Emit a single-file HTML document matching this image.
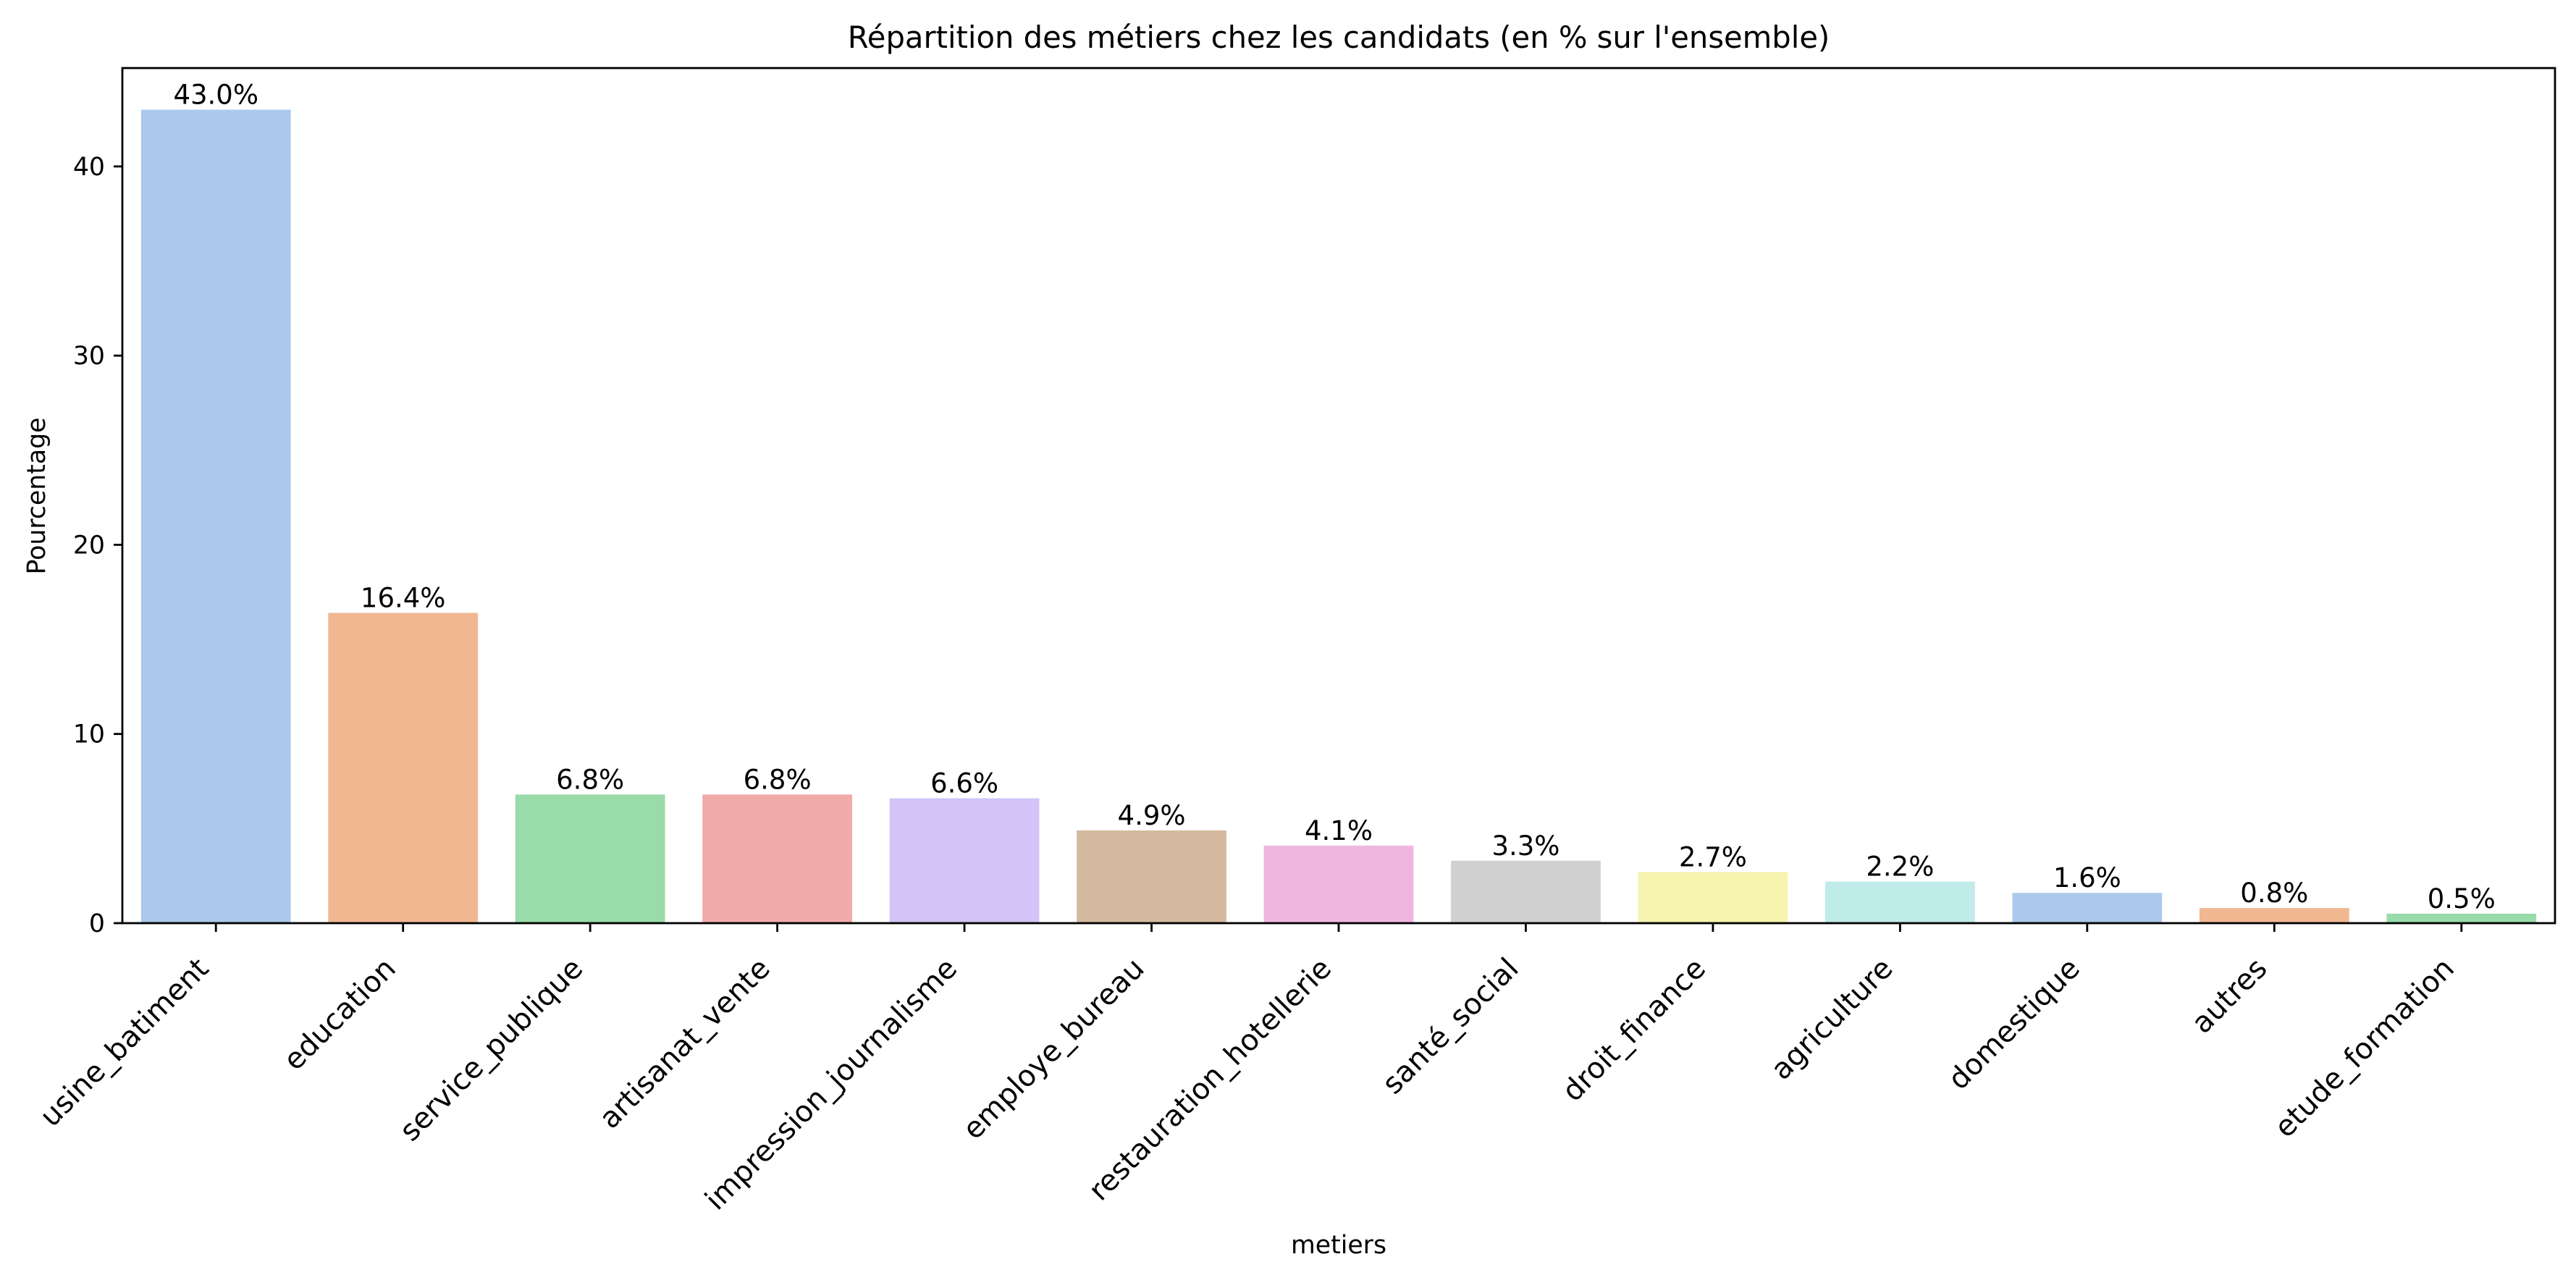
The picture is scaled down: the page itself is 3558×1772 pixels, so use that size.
<!DOCTYPE html>
<html><head><meta charset="utf-8"><style>
html,body{margin:0;padding:0;background:#fff;}
svg text{font-family:"DejaVu Sans","Liberation Sans",sans-serif;fill:#000;}
</style></head><body>
<svg id="chart" width="3558" height="1767" viewBox="0 0 3558 1767" xmlns="http://www.w3.org/2000/svg">
<rect width="3558" height="1767" fill="#fff"/>
<text x="1849" y="66" font-size="41.7" text-anchor="middle">Répartition des métiers chez les candidats (en % sur l'ensemble)</text>
<text x="0" y="0" font-size="34.7" text-anchor="middle" transform="translate(62,685) rotate(-90)">Pourcentage</text>
<text x="1849" y="1731" font-size="34.7" text-anchor="middle">metiers</text>
<g id="bars"></g>
<g id="axes"></g>
</svg>
<script>
const categories = ["usine_batiment","education","service_publique","artisanat_vente","impression_journalisme","employe_bureau","restauration_hotellerie","santé_social","droit_finance","agriculture","domestique","autres","etude_formation"];
const values = [43.0,16.4,6.8,6.8,6.6,4.9,4.1,3.3,2.7,2.2,1.6,0.8,0.5];
const valueLabels = ["43.0%","16.4%","6.8%","6.8%","6.6%","4.9%","4.1%","3.3%","2.7%","2.2%","1.6%","0.8%","0.5%"];
const yTicks = [0,10,20,30,40];
const colors = ["#abc9ec","#f0b791","#99dba9","#f1aba8","#d2c4f6","#d5b99f","#efb6e0","#d0d0d0","#f6f4ae","#bfebe8"];

const NS = "http://www.w3.org/2000/svg";
const L = 169, R = 3529, T = 94, B = 1275, YMAX = 45.2;
const step = (R - L) / categories.length;
function xc(i){ return L + step * (i + 0.5); }
function ys(v){ return B - (B - T) * v / YMAX; }
function mk(tag, attrs, parent){ const e = document.createElementNS(NS, tag); for (const k in attrs) e.setAttribute(k, attrs[k]); parent.appendChild(e); return e; }

const bars = document.getElementById('bars');
const axes = document.getElementById('axes');
const bw = step * 0.8;
values.forEach((v, i) => {
  const r = mk('rect', {x: xc(i) - bw/2, y: ys(v), width: bw, height: B - ys(v), fill: colors[i % colors.length]}, bars);
  
  
  const t = mk('text', {x: xc(i), y: ys(v) - 8, 'font-size': 37, 'text-anchor': 'middle'}, bars);
  t.textContent = valueLabels[i];
  
  
  const tk = mk('line', {x1: xc(i), x2: xc(i), y1: B, y2: B + 12, stroke: '#000', 'stroke-width': 2.8}, axes);
  
  
  const px = xc(i) - 8, py = 1340;
  const lb = mk('text', {x: 0, y: 0, 'font-size': 40, 'text-anchor': 'end', transform: 'translate(' + px + ',' + py + ') rotate(-45)'}, axes);
  lb.textContent = categories[i];
  
  
});
yTicks.forEach(v => {
  const tk = mk('line', {x1: L - 12, x2: L, y1: ys(v), y2: ys(v), stroke: '#000', 'stroke-width': 2.8}, axes);
  
  
  const lb = mk('text', {x: L - 24, y: ys(v) + 12, 'font-size': 34.7, 'text-anchor': 'end'}, axes);
  lb.textContent = String(v);
  
  
});
const frame = mk('rect', {x: L, y: T, width: R - L, height: B - T, fill: 'none', stroke: '#000', 'stroke-width': 2.8}, axes);


</script>
</body></html>
